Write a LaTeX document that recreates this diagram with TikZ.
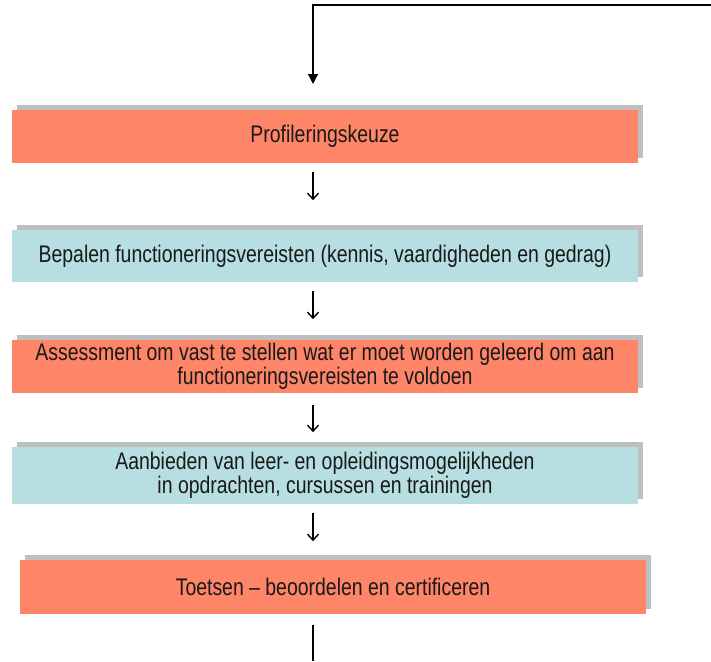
\documentclass[tikz,border=0pt]{standalone}
\usepackage{fontspec}
\setmainfont{Liberation Sans}[FakeStretch=0.81]
\usetikzlibrary{arrows.meta}
\definecolor{salmon}{HTML}{FF8568}
\definecolor{lblue}{HTML}{B7DEE0}
\definecolor{shade}{HTML}{BFBFBF}
\tikzset{
  stepbox/.style={minimum width=626pt, inner sep=0pt, align=center, font=\fontsize{24}{24}\selectfont,
    text=black!90, preaction={fill=shade, transform canvas={xshift=5pt, yshift=5pt}}},
  redbox/.style={stepbox, fill=salmon},
  bluebox/.style={stepbox, fill=lblue},
  smallarrow/.style={draw, line width=1.4pt, -{Straight Barb[length=6pt,width=11pt,line width=1.4pt]}},
  mainline/.style={draw, line width=1.2pt},
}
\begin{document}
\begin{tikzpicture}[x=1pt,y=-1pt]
\useasboundingbox (0,0) rectangle (711,661);
\node[redbox, minimum height=53pt] (b1) at (325,136.5) {Profileringskeuze};
\node[bluebox, minimum height=52pt] (b2) at (325,256) {Bepalen functioneringsvereisten (kennis, vaardigheden en gedrag)};
\node[redbox, minimum height=53pt] (b3) at (325,366.5) {Assessment om vast te stellen wat er moet worden geleerd om aan\\functioneringsvereisten te voldoen};
\node[bluebox, minimum height=57pt] (b4) at (325,475.5) {Aanbieden van leer- en opleidingsmogelijkheden\\in opdrachten, cursussen en trainingen};
\node[redbox, minimum height=54pt] (b5) at (333,587) {Toetsen -- beoordelen en certificeren};
\coordinate (tr) at (711,5);
\coordinate (tl) at (313,5);
\coordinate (ta) at (313,84);
\coordinate (bb) at (313,661);
\draw[mainline, -{Triangle[length=10pt,width=10pt]}] (tr) -- (tl) -- (ta);
\draw[smallarrow] ([yshift=-9pt]b1.south -| ta) -- ([yshift=-37pt]b1.south -| ta);
\draw[smallarrow] ([yshift=-9pt]b2.south -| ta) -- ([yshift=-37pt]b2.south -| ta);
\draw[smallarrow] ([yshift=-12pt]b3.south -| ta) -- ([yshift=-39pt]b3.south -| ta);
\draw[smallarrow] ([yshift=-9pt]b4.south -| ta) -- ([yshift=-37pt]b4.south -| ta);
\draw[mainline] ([yshift=-11pt]b5.south -| ta) -- (bb);
\end{tikzpicture}
\end{document}
